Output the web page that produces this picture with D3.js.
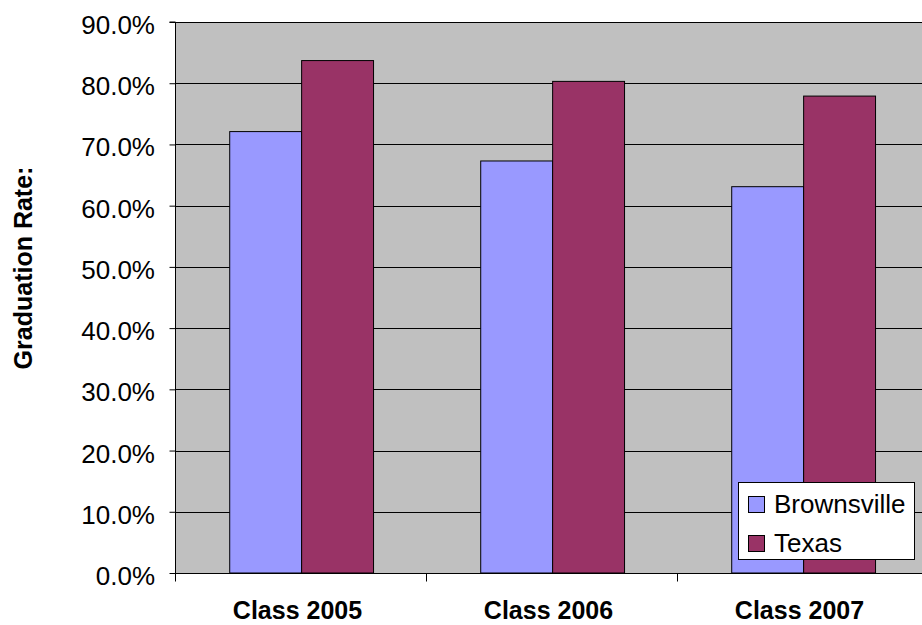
<!DOCTYPE html>
<html><head><meta charset="utf-8">
<script src="https://cdn.jsdelivr.net/npm/d3@7"></script>
<style>
html,body{margin:0;padding:0;background:#fff;}
svg{display:block;font-family:Arial,"Liberation Sans",sans-serif;}
</style></head>
<body>
<svg id="chart" width="922" height="625"></svg>
<script>
const categories = ["Class 2005", "Class 2006", "Class 2007"];
const seriesNames = ["Brownsville", "Texas"];
const brownsville = [0.721, 0.673, 0.631];
const texas = [0.837, 0.803, 0.779];
const yTicks = [0, 0.1, 0.2, 0.3, 0.4, 0.5, 0.6, 0.7, 0.8, 0.9];
const colors = ["#9999FF", "#993366"];
const yTitle = "Graduation Rate:";

(function () {
const svg = d3.select("#chart");
const pL = 175, pR = 928, pT = 22, pB = 573;

const x = d3.scaleBand().domain(categories).range([pL, pR]).padding(0);
const inner = d3.scaleBand().domain(seriesNames)
  .range([x.bandwidth()*0.218, x.bandwidth()*0.791]).padding(0);
const y = d3.scaleLinear().domain([0, 0.9]).range([pB, pT]);

// plot background
svg.append("rect").attr("x", pL).attr("y", pT)
  .attr("width", pR - pL).attr("height", pB - pT).attr("fill", "#C0C0C0");

// gridlines
svg.append("g").selectAll("line").data(yTicks.filter(d => d > 0)).join("line")
  .attr("x1", pL).attr("x2", pR)
  .attr("y1", d => Math.round(y(d)) + 0.5).attr("y2", d => Math.round(y(d)) + 0.5)
  .attr("stroke", "#000").attr("stroke-width", 1);

// bars
const data = categories.map((c, i) => ({cat: c, vals: [brownsville[i], texas[i]]}));
const groups = svg.append("g").selectAll("g").data(data).join("g")
  .attr("transform", d => `translate(${x(d.cat)},0)`);
groups.selectAll("rect").data(d => d.vals.map((v, j) => ({name: seriesNames[j], v, j}))).join("rect")
  .attr("x", d => inner(d.name))
  .attr("y", d => y(d.v))
  .attr("width", inner.bandwidth())
  .attr("height", d => y(0) - y(d.v))
  .attr("fill", d => colors[d.j])
  .attr("stroke", "#000").attr("stroke-width", 1);

// y axis
const yAxis = d3.axisLeft(y).tickValues(yTicks).tickSize(6).tickFormat(d3.format(".1%"));
const yg = svg.append("g").attr("transform", `translate(${pL + 0.5},0)`).call(yAxis);
yg.select(".domain").attr("stroke", "#000").attr("d", `M-6,${pT}H0V${pB}`);
yg.selectAll(".tick line").attr("stroke", "#000");
yg.selectAll(".tick text").attr("x", -20.5).attr("dy", "0.44em")
  .attr("font-size", 26).attr("fill", "#000")
  .attr("font-family", "Arial, 'Liberation Sans', sans-serif");

// x axis
const xAxis = d3.axisBottom(x).tickSize(0).tickFormat("");
const xg = svg.append("g").attr("transform", `translate(0,${pB + 0.5})`).call(xAxis);
xg.select(".domain").attr("stroke", "#000").attr("d", `M${pL},0H${pR}`);
xg.selectAll(".tick").remove();
const boundaries = categories.map(c => x(c)).concat([x(categories[categories.length - 1]) + x.bandwidth()]);
xg.selectAll("line.b").data(boundaries).join("line").attr("class", "b")
  .attr("x1", d => Math.round(d) + 0.5).attr("x2", d => Math.round(d) + 0.5)
  .attr("y1", 0).attr("y2", 8).attr("stroke", "#000");

svg.append("g").selectAll("text").data(categories).join("text")
  .attr("x", d => x(d) + x.bandwidth() / 2 - 3)
  .attr("y", 619)
  .attr("text-anchor", "middle")
  .attr("font-size", 25).attr("font-weight", "bold").attr("fill", "#000")
  .text(d => d);

// y title
svg.append("text")
  .attr("transform", "translate(32,268) rotate(-90)")
  .attr("text-anchor", "middle")
  .attr("font-size", 25).attr("font-weight", "bold").attr("fill", "#000")
  .text(yTitle);

// legend
const lg = svg.append("g");
lg.append("rect").attr("x", 738.5).attr("y", 482.5).attr("width", 176).attr("height", 77)
  .attr("fill", "#fff").attr("stroke", "#000").attr("stroke-width", 1);
const items = lg.selectAll("g").data(seriesNames).join("g")
  .attr("transform", (d, i) => `translate(0,${i * 39})`);
items.append("rect").attr("x", 748.5).attr("y", 496.5).attr("width", 16).attr("height", 16)
  .attr("fill", (d, i) => colors[i]).attr("stroke", "#000").attr("stroke-width", 1);
items.append("text").attr("x", 774).attr("y", 513)
  .attr("font-size", 26).attr("fill", "#000").text(d => d);
})();
</script>
</body></html>
